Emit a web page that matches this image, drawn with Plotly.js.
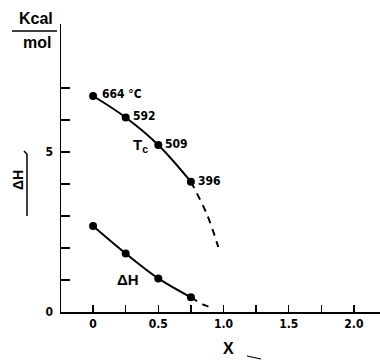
<!DOCTYPE html>
<html>
<head>
<meta charset="utf-8">
<script src="https://cdn.plot.ly/plotly-3.0.1.min.js"></script>
<style>html,body{margin:0;padding:0;background:#fff;}#chart{width:380px;height:360px;}</style>
</head>
<body>
<div id="chart"></div>
<script>
// Data
const xValues = [0, 0.25, 0.5, 0.75];
const tcValues = [6.75, 6.08, 5.22, 4.07];
const tcLabels = ["664 °C", "592", "509", "396"];
const dhValues = [2.69, 1.83, 1.05, 0.46];
const tcExtX = [0.75, 0.875, 0.96];
const tcExtY = [4.07, 3.03, 2.03];
const dhExtX = [0.75, 0.85, 0.925];
const dhExtY = [0.46, 0.22, 0.12];
const xTickVals = [0, 0.5, 1.0, 1.5, 2.0];
const xTickText = ["0", "0.5", "1.0", "1.5", "2.0"];
const xMinorVals = [0.25, 0.75, 1.25, 1.75];
const yTickVals = [0, 5];
const yTickText = ["0", "5"];
const yMinorVals = [1, 2, 3, 4, 6, 7];

const FONT = "DejaVu Sans Condensed, Liberation Sans, sans-serif";
const BOLD = "Liberation Sans, Arial, sans-serif";

const traces = [
  {x: xValues, y: tcValues, mode: "lines+markers", line: {color: "#000", width: 2, shape: "spline"},
   marker: {color: "#000", size: 8}, hoverinfo: "skip"},
  {x: tcExtX, y: tcExtY, mode: "lines", line: {color: "#000", width: 2, dash: "7px,6px", shape: "spline"}, hoverinfo: "skip"},
  {x: xValues, y: dhValues, mode: "lines+markers", line: {color: "#000", width: 2, shape: "spline"},
   marker: {color: "#000", size: 8}, hoverinfo: "skip"},
  {x: dhExtX, y: dhExtY, mode: "lines", line: {color: "#000", width: 2, dash: "7px,6px", shape: "spline"}, hoverinfo: "skip"}
];

// pixel -> paper helpers (plot area: left 61, top 24, width 319, height 288)
const px = v => (v - 61) / 319;
const py = v => (312 - v) / 288;

const annotations = tcLabels.map((t, i) => ({
  x: xValues[i], y: tcValues[i], xref: "x", yref: "y", text: t, showarrow: false,
  xanchor: "left", yanchor: "middle", xshift: i === 0 ? 7 : 5, yshift: i === 0 ? 2 : 1,
  font: {family: FONT, size: 12, color: "#000", weight: "bold"}
}));
const ext = (x, y, text, size, extra) => Object.assign({
  x: px(x), y: py(y), xref: "paper", yref: "paper", text: text, showarrow: false,
  xanchor: "center", yanchor: "middle", font: {family: BOLD, size: size, color: "#000", weight: "bold"}
}, extra || {});
annotations.push(
  ext(140, 145, "T<sub>c</sub>", 15),
  ext(128, 279, "ΔH", 15),
  ext(36, 19, "Kcal", 16),
  ext(37, 42, "mol", 16),
  ext(18, 180, "ΔH", 14, {textangle: -90}),
  ext(228, 348, "X", 16)
);

const shapes = [
  {type: "line", xref: "paper", yref: "paper", x0: px(12), x1: px(57), y0: py(31), y1: py(31), line: {color: "#000", width: 1.5}},
  {type: "line", xref: "paper", yref: "paper", x0: px(27), x1: px(27), y0: py(216), y1: py(154), line: {color: "#000", width: 1.5}},
  {type: "line", xref: "paper", yref: "paper", x0: px(27), x1: px(24), y0: py(154), y1: py(151), line: {color: "#000", width: 1.5}},
  {type: "line", xref: "paper", yref: "paper", x0: px(247), x1: px(261), y0: py(356), y1: py(359), line: {color: "#000", width: 1.2}}
];

const tickFont = {family: FONT, size: 12, color: "#000", weight: "bold"};
const layout = {
  width: 380, height: 360,
  margin: {l: 61, r: 0, t: 24, b: 48},
  paper_bgcolor: "#fff", plot_bgcolor: "#fff",
  showlegend: false,
  font: {family: FONT, color: "#000", size: 12},
  xaxis: {range: [-0.246, 2.2], tickmode: "array", tickvals: xTickVals, ticktext: xTickText,
          ticks: "inside", ticklen: 7, tickwidth: 1.5, tickcolor: "#000",
          minor: {tickmode: "array", tickvals: xMinorVals, ticks: "inside", ticklen: 7, tickwidth: 1.5, tickcolor: "#000", showgrid: false},
          showgrid: false, zeroline: false, showline: true,
          linecolor: "#000", linewidth: 1.5, tickfont: tickFont, fixedrange: true},
  yaxis: {range: [0, 9], tickmode: "array", tickvals: yTickVals, ticktext: yTickText,
          ticks: "inside", ticklen: 9, tickwidth: 1.5, tickcolor: "#000",
          minor: {tickmode: "array", tickvals: yMinorVals, ticks: "inside", ticklen: 9, tickwidth: 1.5, tickcolor: "#000", showgrid: false},
          showgrid: false, zeroline: false, showline: true,
          linecolor: "#000", linewidth: 1.5, ticklabelstandoff: 4,
          tickfont: tickFont, fixedrange: true},
  annotations: annotations,
  shapes: shapes
};

Plotly.newPlot("chart", traces, layout, {displayModeBar: false, staticPlot: true});
</script>
</body>
</html>
